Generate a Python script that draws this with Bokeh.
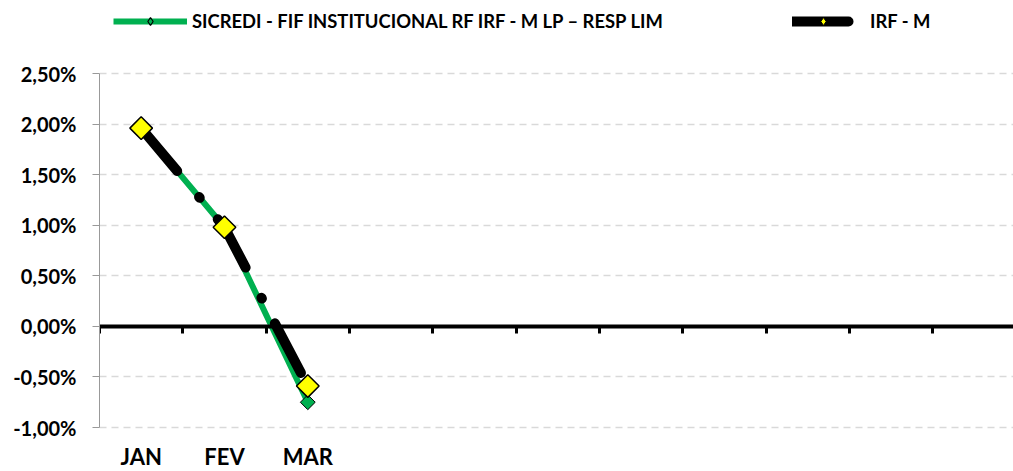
import numpy as np
from bokeh.plotting import figure
from bokeh.models import (Range1d, LinearAxis, FixedTicker, Legend, LegendItem,
                          ColumnDataSource)
from bokeh.embed import file_html
from bokeh.resources import INLINE

# ---- data ----
months = ["JAN", "FEV", "MAR"]
n_slots = 12
sicredi = [1.96, 0.98, -0.75]
irfm = [1.96, 0.98, -0.59]
series_names = ["SICREDI - FIF INSTITUCIONAL RF IRF - M LP \u2013 RESP LIM", "IRF - M"]
y_ticks = [-1.0, -0.5, 0.0, 0.5, 1.0, 1.5, 2.0, 2.5]
y_tick_labels = ["-1,00%", "-0,50%", "0,00%", "0,50%", "1,00%", "1,50%", "2,00%", "2,50%"]

FONT = "Lato"
GREEN = "#00B050"

x = [i + 0.5 for i in range(len(months))]
src = ColumnDataSource(dict(x=x, sicredi=sicredi, irfm=irfm))

# frame spans the whole figure height (room for legend and month labels);
# the value axis line is bounded to -1..2.5
p = figure(width=1013, height=471, x_range=Range1d(0, 10.97), y_range=Range1d(-1.4348, 3.222),
           x_axis_location=None, output_backend="svg", toolbar_location=None,
           min_border_left=99, min_border_right=0, min_border_top=0, min_border_bottom=0)
p.outline_line_color = None
p.background_fill_color = "white"
p.border_fill_color = "white"
p.xgrid.visible = False

# y axis
yax = p.yaxis[0]
yax.ticker = FixedTicker(ticks=y_ticks)
yax.bounds = (y_ticks[0], y_ticks[-1])
yax.major_label_overrides = {t: l for t, l in zip(y_ticks, y_tick_labels)}
yax.axis_line_color = "#999999"
yax.axis_line_width = 1
yax.major_tick_line_color = "#999999"
yax.major_tick_out = 7
yax.major_tick_in = 0
yax.minor_tick_line_color = None
yax.major_label_standoff = 16
yax.major_label_text_font = FONT
yax.major_label_text_font_style = "bold"
yax.major_label_text_font_size = "20px"
yax.major_label_text_color = "black"

p.ygrid.grid_line_color = "#D9D9D9"
p.ygrid.grid_line_dash = "7 5"
p.ygrid.grid_line_width = 1.5

# month labels, below the bottom of the value scale
month_axis = LinearAxis(fixed_location=y_ticks[0], ticker=FixedTicker(ticks=x),
                        major_label_overrides={xi: m for xi, m in zip(x, months)},
                        axis_line_color=None, major_tick_line_color=None,
                        major_tick_out=0, major_tick_in=0,
                        minor_tick_line_color=None, major_label_standoff=15,
                        major_label_text_font=FONT, major_label_text_font_style="bold",
                        major_label_text_font_size="22px", major_label_text_color="black")
p.add_layout(month_axis, "below")

# zero axis with category boundary ticks
zero_axis = LinearAxis(fixed_location=0, ticker=FixedTicker(ticks=list(range(n_slots + 1))),
                       axis_line_color="black", axis_line_width=4,
                       major_tick_line_color="black", major_tick_line_width=3,
                       major_tick_out=7, major_tick_in=0, minor_tick_line_color=None,
                       major_label_text_color=None)
p.add_layout(zero_axis, "below")

# series
g_line = p.line("x", "sicredi", source=src, line_color=GREEN, line_width=6, line_join="round")
k_line = p.line("x", "irfm", source=src, line_color="black", line_width=10,
                line_dash="56 34 1 28", line_cap="round", line_join="round")
g_mark = p.scatter("x", "sicredi", source=src, marker="square", angle=np.pi / 4, size=10.5,
                   fill_color=GREEN, line_color="black", line_width=1)
k_mark = p.scatter("x", "irfm", source=src, marker="square", angle=np.pi / 4, size=16,
                   fill_color="#FFFF00", line_color="black", line_width=1.5)

# legend-only markers (diamond glyphs shown in the legend)
g_leg = p.scatter("x", "sicredi", source=src, marker="diamond", size=10,
                  fill_color=GREEN, line_color="black", line_width=1.2, visible=False)
k_leg = p.scatter("x", "irfm", source=src, marker="diamond", size=10,
                  fill_color="#FFFF00", line_color="black", line_width=1, visible=False)

def make_legend(label, rends, loc, gw, standoff):
    return Legend(items=[LegendItem(label=label, renderers=rends)], location=loc,
                  orientation="horizontal", glyph_width=gw, glyph_height=20, label_height=20,
                  label_standoff=standoff, padding=0, margin=0, spacing=0,
                  border_line_color=None, background_fill_alpha=0,
                  label_text_font=FONT, label_text_font_style="bold",
                  label_text_font_size="18.4px", label_text_color="black")

p.add_layout(make_legend(series_names[0], [g_line, g_leg], (14, 439), 74, 5), "center")
p.add_layout(make_legend(series_names[1], [k_line, k_leg], (693, 439), 62, 16), "center")

open("out.html", "w").write(file_html(p, INLINE))
